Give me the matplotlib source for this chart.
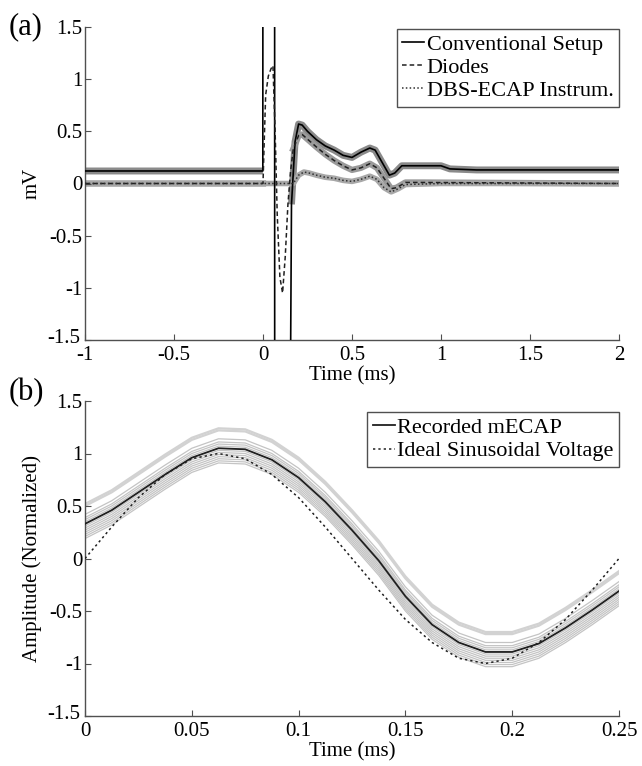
import matplotlib
matplotlib.use('Agg')
import matplotlib.pyplot as plt
import matplotlib.transforms as mtransforms
import numpy as np

plt.rcParams['font.family'] = ['Liberation Serif', 'DejaVu Serif']
plt.rcParams['axes.unicode_minus'] = False

# ---------------- Panel (a) data (time in ms, mV) ----------------
conv_t = [-1.0, -0.001, 0.0, 0.065, 0.066, 0.14, 0.16, 0.18, 0.2, 0.22, 0.25, 0.3, 0.35,
          0.4, 0.45, 0.5, 0.55, 0.6, 0.63, 0.67, 0.71, 0.74, 0.78, 0.85, 1.0, 1.05, 1.2, 2.0]
conv_v = [0.12, 0.12, 6.0, 6.0, -6.0, -6.0, -0.2, 0.4, 0.57, 0.56, 0.5, 0.42, 0.36,
          0.32, 0.27, 0.25, 0.3, 0.34, 0.32, 0.2, 0.08, 0.1, 0.17, 0.17, 0.17, 0.14, 0.13, 0.13]

diode_t = [-1.0, 0.0, 0.005, 0.015, 0.03, 0.045, 0.056, 0.068, 0.08, 0.095, 0.11, 0.125, 0.14,
           0.155, 0.17, 0.2, 0.22, 0.26, 0.3, 0.35, 0.4, 0.45, 0.5, 0.55, 0.6, 0.64, 0.68,
           0.72, 0.75, 0.8, 0.9, 2.0]
diode_v = [0.0, 0.0, 0.3, 0.85, 1.03, 1.1, 1.13, 0.5, -0.3, -0.9, -1.05, -0.7, -0.2,
           0.12, 0.33, 0.46, 0.47, 0.41, 0.35, 0.28, 0.22, 0.17, 0.13, 0.15, 0.19, 0.15, 0.05,
           -0.05, -0.04, 0.01, 0.01, 0.0]

dbs_t = [-1.0, 0.0, 0.17, 0.2, 0.23, 0.26, 0.3, 0.35, 0.4, 0.45, 0.5, 0.55, 0.6, 0.64, 0.68,
         0.72, 0.76, 0.8, 1.0, 2.0]
dbs_v = [0.0, 0.0, 0.0, 0.08, 0.11, 0.1, 0.08, 0.06, 0.05, 0.03, 0.02, 0.04, 0.07, 0.04, -0.04,
         -0.08, -0.05, -0.01, 0.0, 0.0]

a_labels = ['Conventional Setup', 'Diodes', 'DBS-ECAP Instrum.']
a_xticks = [-1, -0.5, 0, 0.5, 1, 1.5, 2]
a_xticklabels = ['-1', '-0.5', '0', '0.5', '1', '1.5', '2']
a_yticks = [-1.5, -1, -0.5, 0, 0.5, 1, 1.5]
a_yticklabels = ['-1.5', '-1', '-0.5', '0', '0.5', '1', '1.5']

# ---------------- Panel (b) data ----------------
b_time = [0, 0.0125, 0.025, 0.0375, 0.05, 0.0625, 0.075, 0.0875, 0.1, 0.1125, 0.125,
          0.1375, 0.15, 0.1625, 0.175, 0.1875, 0.2, 0.2125, 0.225, 0.2375, 0.25]
b_mean = [0.33, 0.46, 0.63, 0.80, 0.96, 1.05, 1.04, 0.94, 0.77, 0.54, 0.27,
          -0.02, -0.36, -0.63, -0.80, -0.89, -0.89, -0.81, -0.66, -0.49, -0.31]
b_ideal = [0.0, 0.3, 0.58, 0.8, 0.95, 1.0, 0.95, 0.8, 0.58, 0.3, 0.0,
           -0.3, -0.58, -0.8, -0.95, -1.0, -0.95, -0.8, -0.58, -0.3, 0.0]
b_trial_offsets = [0.19, 0.17, 0.09, 0.06, 0.04, 0.02, 0.0, -0.02, -0.04, -0.06,
                   -0.08, -0.1, -0.12, -0.14]
b_labels = ['Recorded mECAP', 'Ideal Sinusoidal Voltage']
b_xticks = [0, 0.05, 0.1, 0.15, 0.2, 0.25]
b_xticklabels = ['0', '0.05', '0.1', '0.15', '0.2', '0.25']

W, H = 642, 766
fig = plt.figure(figsize=(W / 100, H / 100), dpi=100)
fig.patch.set_facecolor('white')

TICK_FS = 15
SPINE_C = '#505050'


def style_axes(ax):
    for s in ['top', 'right']:
        ax.spines[s].set_visible(False)
    for s in ['left', 'bottom']:
        ax.spines[s].set_color(SPINE_C)
        ax.spines[s].set_linewidth(1.0)
    ax.tick_params(direction='in', length=4, width=0.8, color=SPINE_C,
                   labelsize=TICK_FS)
    ax.tick_params(axis='x', pad=4)
    ax.tick_params(axis='y', pad=2)


def lift_bottom_ylabel(ax):
    lbl = ax.get_yticklabels()[0]
    lbl.set_transform(lbl.get_transform() +
                      mtransforms.ScaledTranslation(-2 / 100, 4 / 100, fig.dpi_scale_trans))


def halo(t, v, tmin, tmax):
    t = np.asarray(t, float)
    v = np.asarray(v, float).copy()
    v[(t > tmin) & (t < tmax)] = np.nan
    return t, v


def make_legend(ax, anchor):
    lg = ax.legend(loc='upper right', bbox_to_anchor=anchor, fontsize=16,
                   handlelength=1.0, handletextpad=0.1, borderpad=0.25,
                   labelspacing=0.12, borderaxespad=0.0, fancybox=False,
                   framealpha=1, edgecolor='#505050')
    lg.get_frame().set_linewidth(1.0)
    return lg


# ---- Panel (a)
axa = fig.add_axes([85 / W, 1 - 340 / H, 534 / W, 313 / H])
style_axes(axa)

# gray halos (trial spread)
ht, hv = halo(conv_t, conv_v, -0.0005, 0.15)
axa.plot(ht, hv, color='#8a8a8a', lw=5, solid_capstyle='butt', zorder=1)
ht, hv = halo(diode_t, diode_v, 0.0, 0.16)
axa.plot(ht, hv, color='#9a9a9a', lw=4.5, zorder=1)
ht, hv = halo(dbs_t, dbs_v, 0.0, 0.17)
axa.plot(ht, hv, color='#a8a8a8', lw=4, zorder=1)

axa.plot(conv_t, conv_v, color='black', lw=1.2, zorder=3, label=a_labels[0])
axa.plot(diode_t, diode_v, color='#202020', lw=1.1, dashes=(3, 2), zorder=3, label=a_labels[1])
axa.plot(dbs_t, dbs_v, color='#303030', lw=1.1, dashes=(1, 1.5), zorder=3, label=a_labels[2])

axa.set_xlim(-1, 2)
axa.set_ylim(-1.5, 1.5)
axa.set_xticks(a_xticks)
axa.set_xticklabels(a_xticklabels)
axa.set_yticks(a_yticks)
axa.set_yticklabels(a_yticklabels)
lift_bottom_ylabel(axa)
axa.set_xlabel('Time (ms)', fontsize=TICK_FS, labelpad=1)
axa.set_ylabel('mV', fontsize=TICK_FS, labelpad=4)
make_legend(axa, (1.0, 0.995))
fig.text(9 / W, 1 - 27 / H, '(a)', fontsize=22, va='center', ha='left')

# ---- Panel (b)
axb = fig.add_axes([85 / W, 1 - 716 / H, 534 / W, 315 / H])
style_axes(axb)
bm = np.asarray(b_mean)
for off in b_trial_offsets:
    c = '#d2d2d2' if off > 0.12 else '#c4c4c4'
    lw = 1.6 if off > 0.12 else 0.9
    axb.plot(b_time, bm + off, color=c, lw=lw, zorder=1)
axb.plot(b_time, b_mean, color='#202020', lw=1.3, zorder=3, label=b_labels[0])
axb.plot(b_time, b_ideal, color='#202020', lw=1.1, dashes=(1.5, 2), zorder=3, label=b_labels[1])

axb.set_xlim(0, 0.25)
axb.set_ylim(-1.5, 1.5)
axb.set_xticks(b_xticks)
axb.set_xticklabels(b_xticklabels)
axb.set_yticks(a_yticks)
axb.set_yticklabels(a_yticklabels)
lift_bottom_ylabel(axb)
axb.set_xlabel('Time (ms)', fontsize=TICK_FS, labelpad=1)
axb.set_ylabel('Amplitude (Normalized)', fontsize=TICK_FS, labelpad=4)
make_legend(axb, (1.0, 0.965))
fig.text(9 / W, 1 - 393 / H, '(b)', fontsize=22, va='center', ha='left')

fig.savefig('out.png', dpi=100)
